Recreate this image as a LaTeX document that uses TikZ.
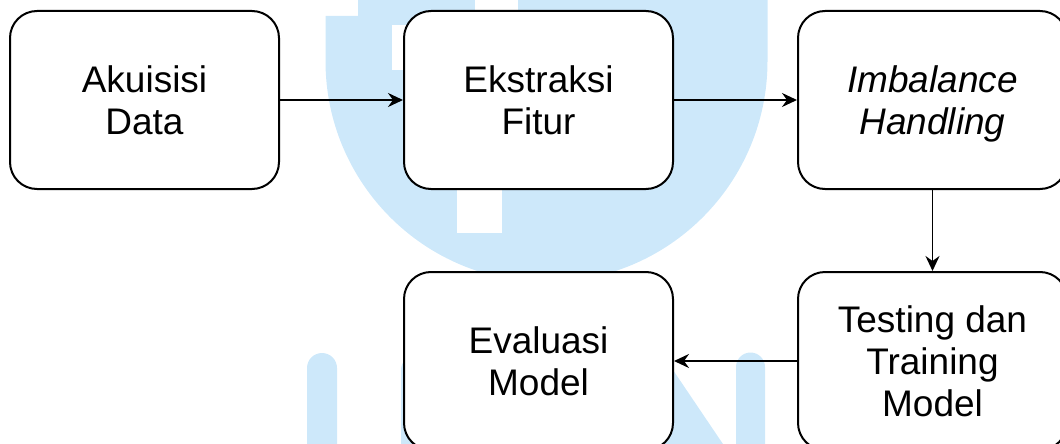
\documentclass[tikz,border=0pt]{standalone}
\usepackage{fontspec}
\setmainfont{Liberation Sans}
\usetikzlibrary{arrows.meta}
\definecolor{wmblue}{RGB}{205,232,250}
\tikzset{
  stepbox/.style={draw=black, line width=2pt, fill=white, rounded corners=27pt,
    minimum width=269pt, minimum height=178pt, inner sep=0pt, align=center,
    text depth=0pt, font=\fontsize{37}{42}\selectfont},
  flow/.style={draw=black, line width=1.9pt,
    -{Stealth[length=15pt,width=14pt,inset=5pt]}},
  wm/.style={fill=wmblue, draw=none}
}
\begin{document}
\begin{tikzpicture}[x=1pt,y=-1pt]
\useasboundingbox (0,0) rectangle (1060,444);
% watermark
\fill[wmblue] (325.5,16) -- (325.5,61) arc(180:0:221) -- (767.5,0) -- (358,0) -- (358,16) -- cycle;
\fill[white] (474.6,-1) rectangle (517.6,14);
\fill[white] (392,25) rectangle (410,70);
\fill[white] (457,186) rectangle (502,233);
\fill[wmblue] (307,450) -- (307,368) arc(180:360:15) -- (337,450) -- cycle;
\fill[wmblue] (401,450) -- (401,370) arc(180:360:15) -- (431,450) -- cycle;
\fill[wmblue] (600,353) -- (661.5,353) -- (727,450) -- (665,450) -- cycle;
\fill[wmblue] (736,450) -- (736,367) arc(180:360:14.5) -- (765,450) -- cycle;
% boxes
\node[stepbox] (akuisisi) at (144.5,100) {Akuisisi\\Data};
\node[stepbox] (ekstraksi) at (538.5,100) {Ekstraksi\\Fitur};
\node[stepbox] (imbalance) at (932.5,100) {\itshape Imbalance\\\itshape Handling};
\node[stepbox] (evaluasi) at (538.5,361) {Evaluasi\\Model};
\node[stepbox] (testing) at (932.5,361) {Testing dan\\Training\\Model};
% connectors
\draw[flow] (akuisisi.east) -- (ekstraksi.west);
\draw[flow] (ekstraksi.east) -- (imbalance.west);
\draw[flow] (imbalance.south) -- (testing.north);
\draw[flow] (testing.west) -- (evaluasi.east);
\end{tikzpicture}
\end{document}
